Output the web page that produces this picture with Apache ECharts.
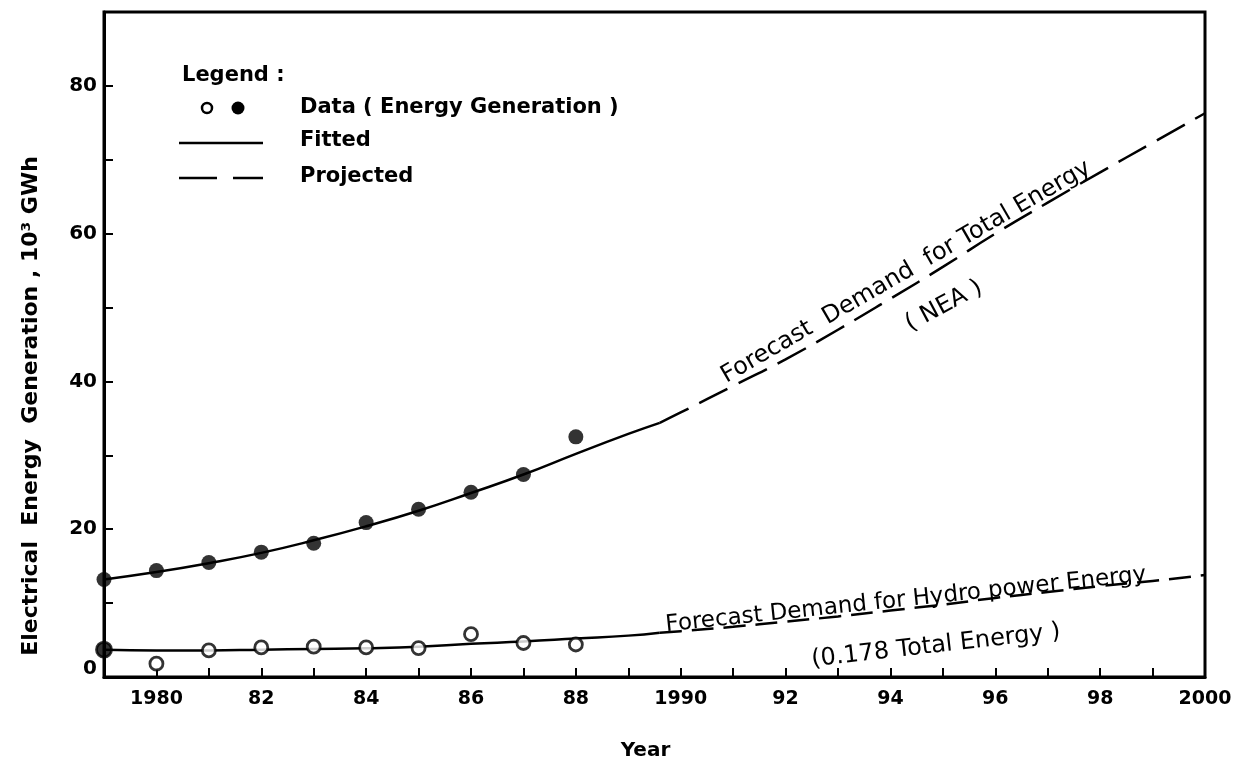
<!DOCTYPE html>
<html>
<head>
<meta charset="utf-8">
<script src="https://cdn.jsdelivr.net/npm/echarts@6/dist/echarts.min.js"></script>
<style>
  html, body { margin: 0; padding: 0; background: #fff; }
  #chart { width: 1245px; height: 766px; }
</style>
</head>
<body>
<div id="chart"></div>
<script>
// observed generation (filled = total, open = hydro)
const dataYears = [1979, 1980, 1981, 1982, 1983, 1984, 1985, 1986, 1987, 1988]
const totalData = [13.2, 14.4, 15.5, 16.9, 18.1, 20.9, 22.7, 25.0, 27.4, 32.5]
const hydroData = [3.7, 1.8, 3.6, 4.0, 4.1, 4.0, 3.9, 5.8, 4.6, 4.4]

// fitted curves (solid)
const fitYears = [1979, 1980, 1981, 1982, 1983, 1984, 1985, 1986, 1987, 1988, 1989, 1989.6]
const totalFit = [13.2, 14.2, 15.4, 16.8, 18.5, 20.4, 22.5, 24.9, 27.4, 30.2, 32.9, 34.4]
const hydroFit = [3.7, 3.6, 3.6, 3.7, 3.8, 3.9, 4.1, 4.5, 4.8, 5.2, 5.6, 6.0]

// projected curves (dashed)
const projYears = [1989.6, 1990, 1991, 1992, 1993, 1994, 1995, 1996, 1997, 1998, 1999, 2000]
const totalProj = [34.4, 35.8, 39.4, 43.0, 47.0, 51.2, 55.5, 60.0, 64.2, 68.3, 72.3, 76.3]
const hydroProj = [6.0, 6.2, 6.8, 7.5, 8.2, 9.0, 9.8, 10.7, 11.5, 12.3, 13.0, 13.8]

const yLabels = [0, 20, 40, 60, 80]

const pairs = (xs, ys) => xs.map((x, i) => [x, ys[i]])
const FONT = 'DejaVu Sans'

const chart = echarts.init(document.getElementById('chart'))

const textEl = (text, x, y, opts = {}) => ({
  type: 'text',
  x, y,
  rotation: opts.rotation || 0,
  style: {
    text,
    x: 0, y: 0,
    fill: '#000',
    font: opts.font || `bold 21px "${FONT}"`,
    align: opts.align || 'left',
    verticalAlign: 'middle',
    textAlign: opts.align || 'left',
    textVerticalAlign: 'middle'
  }
})

const deg = d => d * Math.PI / 180
const noteFont = `24px "${FONT}"`

chart.setOption({
  animation: false,
  backgroundColor: '#fff',
  grid: {
    left: 104, right: 40, top: 12, bottom: 73,
    show: true, borderColor: '#000', borderWidth: 3
  },
  xAxis: {
    type: 'value',
    min: 1979, max: 2000, interval: 1,
    name: 'Year',
    nameLocation: 'middle',
    nameGap: 64,
    nameTextStyle: {
      fontFamily: FONT, fontSize: 20, fontWeight: 'bold', color: '#000',
      padding: [0, 18, 0, 0]
    },
    axisLine: { lineStyle: { color: '#000', width: 3 } },
    axisTick: { inside: true, length: 9, lineStyle: { color: '#000', width: 2 } },
    splitLine: { show: false },
    axisLabel: {
      margin: 13,
      fontFamily: FONT, fontSize: 19, fontWeight: 'bold', color: '#000',
      formatter: v => {
        if (v % 2 !== 0) return ''
        if (v % 10 === 0) return String(v)
        return String(v).slice(2)
      }
    }
  },
  yAxis: {
    type: 'value',
    min: 0, max: 90, interval: 10,
    axisLine: { lineStyle: { color: '#000', width: 3 } },
    axisTick: { inside: true, length: 9, lineStyle: { color: '#000', width: 2 } },
    splitLine: { show: false },
    axisLabel: {
      margin: 7,
      fontFamily: FONT, fontSize: 20, fontWeight: 'bold', color: '#000',
      formatter: v => {
        if (v === 0) return '{zero|0}'
        return yLabels.includes(v) ? String(v) : ''
      },
      rich: {
        zero: {
          fontFamily: FONT, fontSize: 20, fontWeight: 'bold', color: '#000',
          padding: [0, 0, 16, 0]
        }
      }
    }
  },
  series: [
    {
      name: 'Total fitted', type: 'line', smooth: true, symbol: 'none',
      data: pairs(fitYears, totalFit),
      lineStyle: { color: '#000', width: 2.5 }
    },
    {
      name: 'Total projected', type: 'line', smooth: true, symbol: 'none',
      data: pairs(projYears, totalProj),
      lineStyle: { color: '#000', width: 2.5, type: [32, 12] }
    },
    {
      name: 'Hydro fitted', type: 'line', smooth: true, symbol: 'none',
      data: pairs(fitYears, hydroFit),
      lineStyle: { color: '#000', width: 2.5 }
    },
    {
      name: 'Hydro projected', type: 'line', smooth: true, symbol: 'none',
      data: pairs(projYears, hydroProj),
      lineStyle: { color: '#000', width: 2.5, type: [22, 10] }
    },
    {
      name: 'Total data', type: 'scatter', symbol: 'circle', symbolSize: 15,
      data: pairs(dataYears, totalData),
      itemStyle: { color: '#000' },
      z: 5
    },
    {
      name: 'Hydro data', type: 'scatter', symbol: 'circle', symbolSize: 13,
      data: pairs(dataYears, hydroData).map((p, i) => i === 0
        ? { value: p, symbolSize: 15, itemStyle: { color: '#000' } }
        : p),
      itemStyle: { color: '#fff', borderColor: '#000', borderWidth: 2.8 },
      z: 5
    }
  ],
  graphic: [
    // y axis title, placed like the original (a little below the axis middle)
    textEl('Electrical  Energy  Generation , 10³ GWh', 31, 406,
      { align: 'center', rotation: deg(90), font: `bold 22px "${FONT}"` }),

    // hand-drawn style legend block
    textEl('Legend :', 182, 76),
    {
      type: 'circle', shape: { cx: 207, cy: 108, r: 5 },
      style: { fill: '#fff', stroke: '#000', lineWidth: 2.5 }
    },
    {
      type: 'circle', shape: { cx: 238, cy: 108, r: 6.5 },
      style: { fill: '#000' }
    },
    textEl('Data ( Energy Generation )', 300, 108),
    {
      type: 'line', shape: { x1: 179, y1: 143, x2: 263, y2: 143 },
      style: { stroke: '#000', lineWidth: 2.5 }
    },
    textEl('Fitted', 300, 141),
    {
      type: 'line', shape: { x1: 179, y1: 178, x2: 217, y2: 178 },
      style: { stroke: '#000', lineWidth: 2.5 }
    },
    {
      type: 'line', shape: { x1: 233, y1: 178, x2: 263, y2: 178 },
      style: { stroke: '#000', lineWidth: 2.5 }
    },
    textEl('Projected', 300, 177),

    // curve annotations
    textEl('Forecast  Demand  for Total Energy', 906, 272,
      { align: 'center', rotation: deg(30), font: noteFont }),
    textEl('( NEA )', 944, 306,
      { align: 'center', rotation: deg(28), font: noteFont }),
    textEl('Forecast Demand for Hydro power Energy', 906, 600,
      { align: 'center', rotation: deg(6), font: `23px "${FONT}"` }),
    textEl('(0.178 Total Energy )', 936, 646,
      { align: 'center', rotation: deg(6.5), font: noteFont })
  ]
})
</script>
</body>
</html>
